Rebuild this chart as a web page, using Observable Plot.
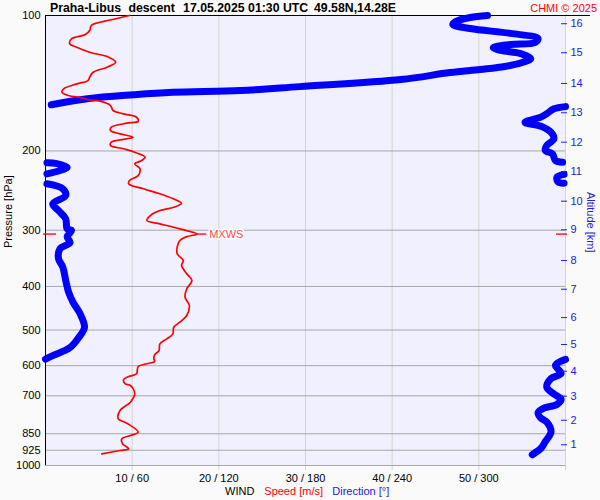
<!DOCTYPE html>
<html><head><meta charset="utf-8">
<script src="https://cdn.jsdelivr.net/npm/d3@7"></script>
<script src="https://cdn.jsdelivr.net/npm/@observablehq/plot@0.6"></script>
<style>
body{margin:0;background:#fafafa;}
#wrap{position:relative;width:600px;height:500px;font-family:"Liberation Sans",Arial,sans-serif;}
.t{position:absolute;white-space:pre;line-height:normal;}
</style></head><body><div id="wrap"></div>
<script>
// ---- data ----
const titleParts = ["Praha-Libus", "descent", "17.05.2025 01:30 UTC", "49.58N,14.28E"];
const credit = "CHMI © 2025";
const legendParts = ["WIND", "Speed [m/s]", "Direction [°]"];
const pressureTicks = [100, 200, 300, 400, 500, 600, 700, 850, 925, 1000];
const gridPressures = [200, 300, 400, 500, 600, 700, 850, 925, 1000];
const xTicks = [10, 20, 30, 40, 50];
const xTickLabels = ["10 / 60", "20 / 120", "30 / 180", "40 / 240", "50 / 300"];
const xGrid = [10, 20, 30, 40, 50, 60];
const altKm = [1, 2, 3, 4, 5, 6, 7, 8, 9, 10, 11, 12, 13, 14, 15, 16];
const altPressure = [899.5, 793.3, 701.5, 617.2, 538.5, 469.1, 405.8, 350.4, 299.4, 258.6, 222.2, 191.2, 164.5, 141.6, 121.0, 104.3];

// [pressure hPa, speed m/s]
const speedProfile = [[100,9.7],[102.2,7.6],[105.2,5.3],[108,5.1],[110.2,4.6],[112.7,3.0],[115.6,2.8],[117.6,3.6],[120.7,5.1],[123.8,7.3],[127,8.1],[130.3,7.1],[133.7,5.5],[137.1,5.1],[139.5,4.9],[141.9,3.6],[145.5,2.1],[148.1,1.9],[150.6,2.6],[152.4,4.2],[153.9,4.9],[155,6.3],[158.5,7.5],[162.6,7.8],[165.4,9.0],[168.3,10.5],[171.8,10.7],[173.5,9.4],[177.1,7.6],[180.1,7.5],[183.2,8.6],[186.4,10.1],[187.9,9.4],[191.2,7.6],[194.5,7.5],[197.8,9.0],[201.3,10.3],[206.5,11.5],[210,11.1],[213.6,10.3],[219.1,10.9],[226.8,10.7],[232.6,9.7],[236.6,9.6],[242.7,11.3],[249,13.2],[257.7,15.2],[261.3,15.7],[266.7,14.8],[271.3,13.2],[278.3,12.1],[285.5,11.7],[290.4,13.2],[297.9,15.5],[306,17.5],[310,16.3],[315,15.6],[321.5,15.3],[338.5,15.2],[350.4,15.9],[359.3,15.7],[375,16.3],[388.1,16.9],[404.9,16.3],[422.7,16.1],[441,16.6],[464.2,16.3],[480.4,15.5],[492.9,14.8],[509.8,14.7],[523,14.0],[536.6,13.2],[555.3,13.1],[566.8,12.6],[579.4,12.5],[586.6,12.6],[594.3,11.7],[602.6,10.7],[625.5,10.5],[634.3,9.6],[645.1,9.0],[658.4,9.2],[664.1,9.8],[693,10.3],[723.3,9.8],[754.8,8.6],[787.5,8.4],[805.4,9.4],[843.4,10.7],[857.7,9.8],[872.4,8.8],[895,8.9],[918.2,9.6],[926.2,8.6],[942,6.5]];

// [pressure hPa, direction deg]
const directionProfile = [[100,306],[101,294],[103.1,284],[104.7,282],[106.9,294],[109.6,322],[112.5,341],[114.8,339],[116,322],[117.8,310],[119.6,315],[121.5,329],[124.6,336],[127.2,330],[129.8,318],[131.8,301],[133.9,280],[138.8,246],[143.9,176],[146.8,135],[148.1,88],[150,61],[153.1,29],[157.9,4],
[159.4,360],[161.2,352],[165.3,347],[168.2,343],[172.7,332],[176.3,343],[181.8,350],[188,352],[194.5,347],[199.6,346],[203,351],[210,353],[211.9,358],
[212.5,1],[213.1,7],[217.4,15],[221.1,10],[224.9,1],
[225.5,359],[228.8,354],[234.7,355],[235.8,359],
[236.6,1],[242.7,12],[251.2,14],[262.2,5],[271.3,9],[283.1,14],[297.9,15],[300.5,18],[310,15],[319.7,17],[330,10],[347,9],[362.3,12],[387.9,14],[412,16],[433.5,19],[460.4,24],[493.4,27],[519.4,23],[546.9,17],[570.1,5],[580.5,0],
[581,360],[598.9,353],[624.3,357],[640.7,350],[669.6,347],[693.6,352],[712.2,357],[731.9,354],[745.6,345],[763.6,341],[785.1,343],[800.6,347],[841.6,350],[885.3,346],[915.4,343],[946.3,337]];

// ---- derived ----
const altMap = new Map(altPressure.map((p, i) => [p, altKm[i]]));
const speedPts = speedProfile.map(([p, s]) => ({p, s}));
let seg = 0;
const dirPts = directionProfile.map(([p, deg], i) => {
  if (i > 0 && Math.abs(deg - directionProfile[i - 1][1]) > 180) seg++;
  return {p, deg, seg};
});
const peak = speedPts.reduce((a, b) => (b.s > a.s ? b : a));

const BLUE = "#0000ff", RED = "#ff0000", TXTBLUE = "#2020e0";
const FONT = '"Liberation Sans", Arial, sans-serif';

const chart = Plot.plot({
  width: 600, height: 500,
  marginLeft: 45, marginRight: 35, marginTop: 15, marginBottom: 35,
  style: {fontFamily: FONT, fontSize: "11px", background: "transparent", overflow: "visible"},
  x: {domain: [0, 60]},
  y: {type: "log", domain: [100, 1000], reverse: true},
  marks: [
    Plot.frame({fill: "#f0f0ff", stroke: null}),
    Plot.ruleX(xGrid, {stroke: "#d4d4d4"}),
    Plot.axisX(xGrid, {anchor: "bottom", tickSize: 5, stroke: "#d4d4d4", fill: "none", label: null}),
    Plot.ruleY(gridPressures, {stroke: "#a8a8a8"}),
    Plot.ruleY([100], {stroke: "black"}),
    Plot.ruleY([100], {stroke: "black", dx: 25}),
    Plot.ruleX([0], {stroke: "black"}),
    Plot.line(dirPts, {x: d => d.deg / 6, y: "p", z: "seg", stroke: BLUE, strokeWidth: 7, strokeLinecap: "round", strokeLinejoin: "round", curve: "catmull-rom"}),
    Plot.line(speedPts, {x: "s", y: "p", stroke: RED, strokeWidth: 1.7, curve: "catmull-rom"}),
    Plot.ruleY([peak], {y: "p", x1: "s", x2: d => d.s + 1.1, stroke: RED, strokeWidth: 1.3}),
    Plot.text([peak], {x: "s", y: "p", text: () => "MXWS", dx: 12, textAnchor: "start", fill: "#ff4a4a", stroke: "white", strokeWidth: 3, fontSize: 11}),
    Plot.axisY([peak.p], {anchor: "left", tickSize: 13, dx: 11, stroke: RED, strokeWidth: 1.3, fill: "none", label: null}),
    Plot.axisY([peak.p], {anchor: "right", tickSize: 11, dx: -10, stroke: RED, strokeWidth: 1.3, fill: "none", label: null}),
    Plot.axisY(pressureTicks, {anchor: "left", tickSize: 0, tickPadding: 5, tickFormat: d => String(d), fill: "black", fontSize: 11, label: null}),
    Plot.axisY(altPressure, {anchor: "right", tickSize: 6, dx: -5, stroke: TXTBLUE, fill: "none", label: null}),
    Plot.axisY(altPressure, {anchor: "right", tickSize: 0, tickPadding: 5, tickFormat: p => String(altMap.get(p)), fill: TXTBLUE, fontSize: 11, label: null}),
    Plot.axisX(xTicks, {anchor: "bottom", tickSize: 0, tickPadding: 9, tickFormat: d => xTickLabels[xTicks.indexOf(d)], fill: "black", fontSize: 11, label: null}),
    Plot.text(["Pressure [hPa]"], {frameAnchor: "left", text: d => d, dx: -37, dy: 7.5, rotate: -90, fill: "black", fontSize: 11}),
    Plot.text(["Altitude [km]"], {frameAnchor: "right", text: d => d, dx: 25, dy: 12, rotate: 90, fill: TXTBLUE, fontSize: 11})
  ]
});

const wrap = document.getElementById("wrap");
wrap.appendChild(chart);

const titleX = [50, 128.4, 183.1, 314];
titleParts.forEach((t, i) => {
  const s = document.createElement("div");
  s.className = "t";
  s.textContent = t;
  s.style.cssText = `left:${titleX[i]}px;top:1px;font-size:12.3px;font-weight:bold;color:#000;`;
  wrap.appendChild(s);
});
const c = document.createElement("div");
c.className = "t";
c.textContent = credit;
c.style.cssText = "right:3px;top:2px;font-size:11px;color:#ff0000;";
wrap.appendChild(c);

const legendX = [225, 264.3, 332.3];
const legendColors = ["#000000", RED, TXTBLUE];
legendParts.forEach((t, i) => {
  const s = document.createElement("div");
  s.className = "t";
  s.textContent = t;
  s.style.cssText = `left:${legendX[i]}px;top:485px;font-size:11px;color:${legendColors[i]};`;
  wrap.appendChild(s);
});
</script></body></html>
